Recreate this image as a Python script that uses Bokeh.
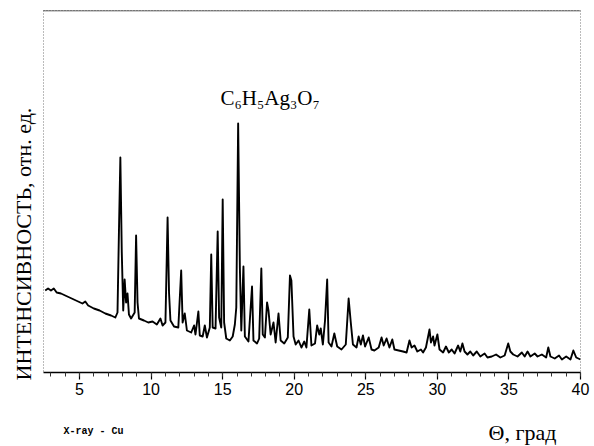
import math
from bokeh.plotting import figure
from bokeh.layouts import column
from bokeh.models import Range1d, Label, Span, SingleIntervalTicker, ColumnDataSource, Title
from bokeh.embed import file_html
from bokeh.resources import INLINE

# ---- data (angle, relative intensity) ----
theta = [2.6, 2.8, 3.0, 3.2, 3.4, 3.7, 4.0, 4.3, 4.6, 4.9, 5.2, 5.4, 5.6, 6.0, 6.4, 6.8, 7.2, 7.5,
         7.65, 7.75, 7.85, 7.95, 8.05, 8.15, 8.25, 8.35, 8.45, 8.6, 8.85, 8.95, 9.05, 9.15, 9.5, 9.8,
         10.1, 10.4, 10.65, 10.8, 11.0, 11.15, 11.25, 11.35, 11.6, 11.9, 12.1, 12.2, 12.35, 12.5, 12.8,
         13.0, 13.1, 13.3, 13.4, 13.6, 13.75, 13.9, 14.1, 14.2, 14.3, 14.5, 14.65, 14.75, 14.9, 15.0,
         15.1, 15.25, 15.5, 15.7, 15.85, 15.95, 16.08, 16.2, 16.3, 16.45, 16.55, 16.8, 17.05, 17.15,
         17.4, 17.55, 17.7, 17.8, 17.95, 18.1, 18.2, 18.35, 18.55, 18.7, 18.9, 19.05, 19.3, 19.55,
         19.7, 19.8, 19.95, 20.1, 20.3, 20.5, 20.7, 20.85, 21.05, 21.2, 21.45, 21.6, 21.75, 21.85,
         22.0, 22.15, 22.3, 22.4, 22.6, 22.8, 23.0, 23.3, 23.6, 23.8, 23.95, 24.1, 24.35, 24.5, 24.65,
         24.8, 24.95, 25.2, 25.4, 25.6, 25.9, 26.1, 26.25, 26.45, 26.65, 26.85, 27.0, 27.3, 27.6,
         27.85, 28.05, 28.2, 28.4, 28.6, 28.85, 29.0, 29.2, 29.45, 29.55, 29.7, 29.8, 30.0, 30.15,
         30.4, 30.6, 30.8, 31.0, 31.2, 31.45, 31.6, 31.75, 31.9, 32.1, 32.3, 32.5, 32.75, 33.0, 33.3,
         33.5, 33.8, 34.1, 34.4, 34.7, 34.95, 35.1, 35.3, 35.6, 35.9, 36.1, 36.3, 36.5, 36.8, 37.0,
         37.3, 37.6, 37.75, 37.9, 38.2, 38.5, 38.7, 39.0, 39.3, 39.5, 39.7, 40.0]
intensity = [82, 84, 82, 84, 80, 79, 77, 75, 73, 71, 69, 71, 67, 64, 62, 59, 57, 55,
             60, 140, 215, 120, 62, 93, 70, 79, 58, 54, 60, 137, 70, 54, 52, 50,
             51, 48, 54, 47, 50, 155, 80, 52, 46, 45, 102, 50, 59, 42, 40,
             47, 38, 61, 37, 36, 47, 35, 45, 118, 45, 44, 141, 55, 45, 173,
             50, 34, 32, 36, 48, 65, 249, 105, 42, 106, 36, 31, 86, 32,
             29, 34, 104, 38, 35, 70, 62, 38, 50, 30, 59, 32, 29, 35,
             97, 92, 36, 28, 32, 25, 31, 25, 63, 27, 29, 47, 38, 44,
             28, 52, 93, 30, 26, 39, 26, 23, 28, 74, 50, 28, 25, 36, 28,
             37, 26, 35, 23, 22, 25, 35, 27, 34, 25, 33, 23, 22, 21,
             20, 32, 25, 27, 21, 23, 20, 25, 43, 30, 36, 27, 38, 23,
             20, 26, 20, 23, 19, 27, 21, 29, 21, 18, 21, 17, 21, 16, 19,
             15, 16, 18, 15, 17, 29, 21, 18, 16, 20, 16, 21, 16, 19, 16,
             18, 15, 25, 16, 14, 17, 13, 16, 13, 22, 15, 13]

x_tick_interval = 5
x_limits = (2.48, 40.0)
y_limits = (0, 362)

compound = "C\u2086H\u2085Ag\u2083O\u2087"
y_label = "ИНТЕНСИВНОСТЬ, отн. ед."
x_label = "Θ, град"
source_note = "X-ray - Cu"

src = ColumnDataSource(dict(x=theta, y=intensity))

p = figure(width=590, height=404, output_backend="svg", toolbar_location=None,
           x_range=Range1d(*x_limits), y_range=Range1d(*y_limits), y_axis_location=None,
           min_border_left=43, min_border_right=10, min_border_top=10, min_border_bottom=32)
p.background_fill_color = "white"
p.border_fill_color = "white"
p.grid.visible = False

p.outline_line_color = "#777777"
p.outline_line_dash = "1 2"
p.outline_line_width = 1

p.add_layout(Span(location=y_limits[1], dimension="width", line_color="#333333", line_width=1.5))

p.line("x", "y", source=src, line_color="black", line_width=1.9, line_join="round")

ax = p.xaxis[0]
ax.ticker = SingleIntervalTicker(interval=x_tick_interval, num_minor_ticks=5)
ax.axis_line_color = "black"
ax.axis_line_width = 1.5
ax.major_tick_line_color = "black"
ax.major_tick_line_width = 1.2
ax.major_tick_in = 0
ax.major_tick_out = 7
ax.minor_tick_line_color = "#333333"
ax.minor_tick_line_width = 1
ax.minor_tick_in = 0
ax.minor_tick_out = 4
ax.major_label_standoff = 3
ax.major_label_text_font = "Liberation Sans"
ax.major_label_text_font_size = "16px"
ax.major_label_text_color = "black"

# compound formula inside the frame
p.add_layout(Label(x=177, y=275, x_units="screen", y_units="screen", text=compound,
                   text_font="Liberation Serif", text_font_size="21px", text_color="black",
                   text_baseline="middle", text_align="left"))

# vertical axis title on the left side
p.add_layout(Title(text=y_label, align="left", offset=-8, standoff=15,
                   text_font="Liberation Serif", text_font_size="22px", text_font_style="normal",
                   text_color="black"), "left")

# strip below the plot holding the two captions (its frame is aligned with the main frame)
p2 = figure(width=590, height=42, output_backend="svg", toolbar_location=None,
            x_range=Range1d(0, 1), y_range=Range1d(0, 1),
            x_axis_location=None, y_axis_location=None, min_border=0)
p2.outline_line_color = None
p2.grid.visible = False
p2.background_fill_color = "white"
p2.border_fill_color = "white"
p2.add_layout(Label(x=20, y=15, x_units="screen", y_units="screen", text=source_note,
                    text_font="Liberation Mono", text_font_size="10px", text_font_style="bold",
                    text_color="black", text_baseline="middle", text_align="left"))
p2.add_layout(Label(x=445, y=14, x_units="screen", y_units="screen", text=x_label,
                    text_font="Liberation Serif", text_font_size="22px", text_color="black",
                    text_baseline="middle", text_align="left"))

page = column(p, p2, spacing=0)
open("out.html", "w").write(file_html(page, INLINE))
